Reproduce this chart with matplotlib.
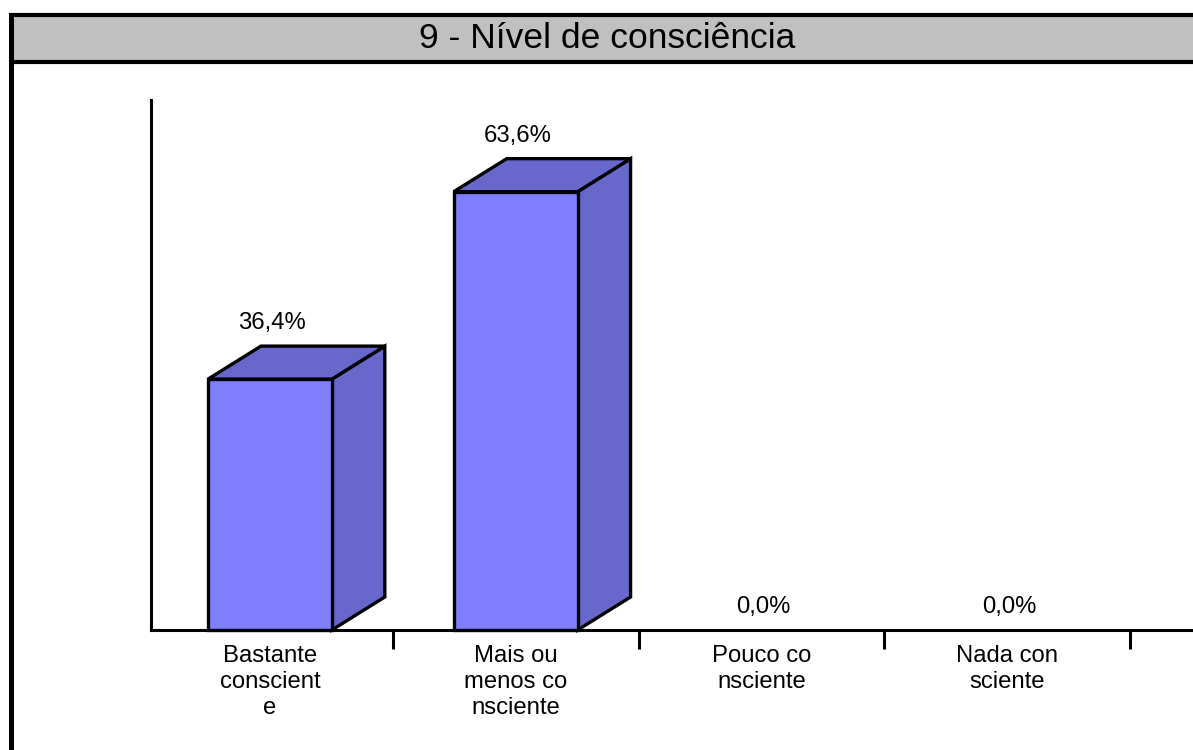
import matplotlib
matplotlib.use("Agg")
import matplotlib.pyplot as plt
from matplotlib.patches import Polygon, Rectangle
from matplotlib.lines import Line2D

plt.rcParams['font.family'] = ['Liberation Sans', 'DejaVu Sans']

# dados
titulo = "9 - Nível de consciência"
categorias = ["Bastante\nconscient\ne", "Mais ou\nmenos co\nnsciente",
              "Pouco co\nnsciente", "Nada con\nsciente"]
valores = [36.4, 63.6, 0.0, 0.0]
rotulos = ["36,4%", "63,6%", "0,0%", "0,0%"]

cor_frente = "#8080FF"
cor_lado = "#6868CC"

W, H = 1193, 750
fig = plt.figure(figsize=(W / 100, H / 100), dpi=100)

# faixa do titulo + moldura esquerda
fig.patches.append(Rectangle((10 / W, 1 - 62 / H), 1.1, 47 / H, transform=fig.transFigure,
                             facecolor="#C0C0C0", edgecolor="none", zorder=0))
fig.lines.append(Line2D([9 / W, 1.0], [1 - 15 / H, 1 - 15 / H], transform=fig.transFigure,
                        color="black", lw=3.0, solid_capstyle="butt"))
fig.lines.append(Line2D([9 / W, 1.0], [1 - 62 / H, 1 - 62 / H], transform=fig.transFigure,
                        color="black", lw=3.0, solid_capstyle="butt"))
fig.lines.append(Line2D([11 / W, 11 / W], [0, 1 - 13 / H], transform=fig.transFigure,
                        color="black", lw=3.6, solid_capstyle="butt"))
fig.text(607 / W, 1 - 39 / H, titulo, ha="center", va="center", fontsize=25.5)

# eixo principal
ax = fig.add_axes([151 / W, 120 / H, 1 - 151 / W, 530 / H])
ax.set_xlim(-0.484, 3.756)
ax.set_ylim(0, 76.9)
for s in ("top", "right"):
    ax.spines[s].set_visible(False)
ax.spines["left"].set_linewidth(2.2)
ax.spines["bottom"].set_linewidth(2.2)
ax.set_yticks([])
ax.set_xticks(range(len(categorias)))
ax.set_xticklabels(categorias, fontsize=17.2, linespacing=1.22)
ax.tick_params(axis="x", length=0, pad=11)
ax.set_xticks([i + 0.5 for i in range(len(categorias))], minor=True)
ax.tick_params(axis="x", which="minor", length=14, width=2.2, direction="out")

# barras com profundidade
larg = 0.504
dx = 53 / 246
dy = 33 / 6.89
for i, v in enumerate(valores):
    if v > 0:
        x0, x1 = i - larg / 2, i + larg / 2
        lado = Polygon([(x1, 0), (x1 + dx, dy), (x1 + dx, v + dy), (x1, v)],
                       facecolor=cor_lado, edgecolor="black", lw=2.4, zorder=3)
        topo = Polygon([(x0, v), (x0 + dx, v + dy), (x1 + dx, v + dy), (x1, v)],
                       facecolor=cor_lado, edgecolor="black", lw=2.4, zorder=3)
        frente = Rectangle((x0, 0), larg, v, facecolor=cor_frente,
                           edgecolor="black", lw=2.4, zorder=4)
        for p in (lado, topo, frente):
            p.set_clip_on(False)
            ax.add_patch(p)
        ytxt = v + dy
    else:
        ytxt = v
    ax.annotate(rotulos[i], (i, ytxt), xytext=(2, 23), textcoords="offset pixels",
                ha="center", va="center", fontsize=17.2)

fig.savefig("out.png", dpi=100)
